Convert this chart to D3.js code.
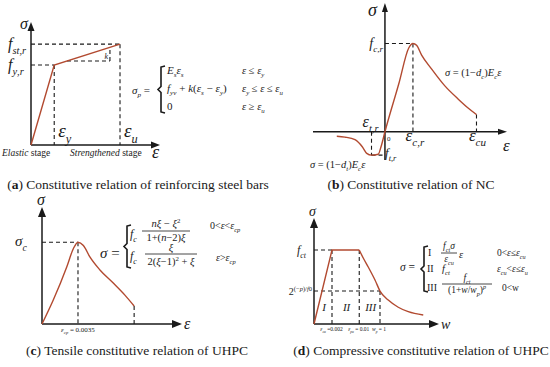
<!DOCTYPE html>
<html>
<head>
<meta charset="utf-8">
<script src="https://cdn.jsdelivr.net/npm/d3@7"></script>
<style>
body { margin: 0; background: #fff; }
svg { display: block; }
text { white-space: pre; }
</style>
</head>
<body>
<script>
// ---- data (axis units, not pixels) ----
// (a) steel bars: fractions of the axis length
var steelStrain = [0, 0.18, 0.69];
var steelStress = [0, 0.65, 0.82];
var steelSlopeLevel = 0.683, steelSlopeEnd = 0.612;

// (b) NC: strain in units of eps_c,r, stress in units of f_c,r
var ncStrain = [-1.72, -1.43, -1.07, -0.81, -0.65, -0.48, -0.24, -0.14, 0, 0.5, 0.85, 1.0, 1.13, 1.31, 1.67, 2.14, 2.62, 2.97, 3.27];
var ncStress = [-0.05, -0.06, -0.09, -0.17, -0.245, -0.265, -0.255, -0.17, 0, 0.55, 0.95, 1.0, 0.98, 0.87, 0.71, 0.52, 0.37, 0.27, 0.195];

// (c) UHPC tension: strain in units of eps_cp, stress in units of sigma_c
var tenStrain = [0, 0.31, 0.69, 0.87, 1.0, 1.15, 1.33, 1.61, 1.98, 2.31, 2.56];
var tenStress = [0, 0.29, 0.70, 0.92, 1.0, 0.96, 0.82, 0.66, 0.50, 0.35, 0.22];

// (d) UHPC compression: fractions of the axis length
var compStrain = [0, 0.144, 0.362, 0.395, 0.435, 0.488, 0.528, 0.594, 0.674, 0.754, 0.874];
var compStress = [0, 0.698, 0.698, 0.62, 0.535, 0.415, 0.311, 0.226, 0.158, 0.116, 0.085];
var compRegions = ["I", "II", "III"];

var captions = [
  ["a", "Constitutive relation of reinforcing steel bars"],
  ["b", "Constitutive relation of NC"],
  ["c", "Tensile constitutive relation of UHPC"],
  ["d", "Compressive constitutive relation of UHPC"]
];

var curveColor = "#b24a30", ink = "#1a1a1a", dash = "4,3";
var serif = "'Liberation Serif', 'DejaVu Serif', serif";

var svg = d3.select("body").append("svg").attr("width", 550).attr("height", 367);

// ---- helpers ----
function arrow(g, x1, y1, x2, y2, len, wid) {
  var a = Math.atan2(y2 - y1, x2 - x1);
  var bx = x2 - len * Math.cos(a), by = y2 - len * Math.sin(a);
  var px = -Math.sin(a) * wid / 2, py = Math.cos(a) * wid / 2;
  g.append("line").attr("x1", x1).attr("y1", y1).attr("x2", bx).attr("y2", by)
    .attr("stroke", ink).attr("stroke-width", 1.5);
  g.append("path")
    .attr("d", "M" + x2 + "," + y2 + "L" + (bx + px) + "," + (by + py) + "L" + (bx - px) + "," + (by - py) + "Z")
    .attr("fill", ink);
}

function dline(g, x1, y1, x2, y2) {
  g.append("line").attr("x1", x1).attr("y1", y1).attr("x2", x2).attr("y2", y2)
    .attr("stroke", ink).attr("stroke-width", 1.1).attr("stroke-dasharray", dash);
}

// tiny tex-ish markup: _x / _{..} sub, ^{..} sup, `..` roman
function runs(str) {
  var res = [], stack = [0], pending = null, roman = false;
  for (var i = 0; i < str.length; i++) {
    var c = str[i];
    if (c === "`") { roman = !roman; continue; }
    if (c === "_" || c === "^") { pending = c === "_" ? 1 : 2; continue; }
    if (c === "{") { stack.push(pending === null ? stack[stack.length - 1] : pending); pending = null; continue; }
    if (c === "}") { stack.pop(); continue; }
    var m = pending !== null ? pending : stack[stack.length - 1];
    pending = null;
    var it = !roman && /[A-Za-z\u03b1-\u03c9]/.test(c);
    var last = res[res.length - 1];
    if (last && last.m === m && last.it === it) last.t += c;
    else res.push({ t: c, m: m, it: it });
  }
  return res;
}

function tx(g, x, y, str, size, anchor) {
  var t = g.append("text").attr("x", x).attr("y", y).attr("font-size", size)
    .attr("font-family", serif).attr("fill", ink)
    .attr("text-anchor", anchor || "start");
  var off = 0;
  runs(str).forEach(function (r) {
    var target = r.m === 1 ? size * 0.3 : r.m === 2 ? -size * 0.42 : 0;
    var fs = r.m ? size * 0.65 : size;
    t.append("tspan").text(r.t).attr("dy", target - off).attr("font-size", fs)
      .attr("font-style", r.it ? "italic" : "normal");
    off = target;
  });
  return t;
}

function frac(g, cx, yNum, yLine, yDen, num, den, size, half) {
  tx(g, cx, yNum, num, size, "middle");
  g.append("line").attr("x1", cx - half).attr("x2", cx + half).attr("y1", yLine).attr("y2", yLine)
    .attr("stroke", ink).attr("stroke-width", 0.8);
  tx(g, cx, yDen, den, size, "middle");
}

function brace(g, x, y0, y1) {
  var m = (y0 + y1) / 2;
  g.append("path")
    .attr("d", "M" + (x + 4) + "," + y0 + "L" + x + "," + (y0 + 1) + "L" + x + "," + (m - 3) +
      "L" + (x - 3) + "," + m + "L" + x + "," + (m + 3) + "L" + x + "," + (y1 - 1) + "L" + (x + 4) + "," + y1)
    .attr("fill", "none").attr("stroke", ink).attr("stroke-width", 1.6);
}

function caption(x, y, c) {
  var t = svg.append("text").attr("x", x).attr("y", y).attr("font-size", 13.5)
    .attr("font-family", serif).attr("fill", ink).attr("text-anchor", "middle");
  t.append("tspan").text("(");
  t.append("tspan").text(c[0]).attr("font-weight", "bold");
  t.append("tspan").text(") " + c[1]);
}

function zipPts(xs, ys) { return xs.map(function (v, i) { return [v, ys[i]]; }); }

// ---- (a) reinforcing steel ----
var ga = svg.append("g");
var xA = d3.scaleLinear().domain([0, 1]).range([31, 160]);
var yA = d3.scaleLinear().domain([0, 1]).range([145, 22]);
arrow(ga, xA(0), yA(0), xA(0), yA(1), 9, 7);
arrow(ga, xA(0), yA(0), xA(1), yA(0), 9, 7);

var sy = steelStrain.length - 1;
dline(ga, xA(0), yA(steelStress[sy]), xA(steelStrain[sy]), yA(steelStress[sy]));
dline(ga, xA(steelStrain[sy]), yA(steelStress[sy]), xA(steelStrain[sy]), yA(0));
dline(ga, xA(0), yA(steelStress[1]), xA(steelStrain[1]), yA(steelStress[1]));
dline(ga, xA(steelStrain[1]), yA(steelStress[1]), xA(steelStrain[1]), yA(0));

// slope triangle (k)
var slopeT = (steelSlopeLevel - steelStress[1]) / (steelStress[2] - steelStress[1]);
var slopeX0 = steelStrain[1] + slopeT * (steelStrain[2] - steelStrain[1]);
var slopeTop = steelStress[1] + (steelSlopeEnd - steelStrain[1]) / (steelStrain[2] - steelStrain[1]) * (steelStress[2] - steelStress[1]);
dline(ga, xA(slopeX0), yA(steelSlopeLevel), xA(steelSlopeEnd), yA(steelSlopeLevel));
dline(ga, xA(steelSlopeEnd), yA(steelSlopeLevel), xA(steelSlopeEnd), yA(slopeTop));
tx(ga, xA(steelSlopeEnd) - 2, yA(steelSlopeLevel) - 2, "k", 8, "end");

ga.append("path").datum(zipPts(steelStrain, steelStress))
  .attr("d", d3.line().x(function (d) { return xA(d[0]); }).y(function (d) { return yA(d[1]); }))
  .attr("fill", "none").attr("stroke", curveColor).attr("stroke-width", 1.4);

tx(ga, 20, 29, "\u03c3", 16);
tx(ga, 8, 49, "f_{st,r}", 16);
tx(ga, 8, 70, "f_{y,r}", 16);
tx(ga, xA(steelStrain[1]) + 4, 137, "\u03b5_y", 19);
tx(ga, xA(steelStrain[sy]) + 4, 137, "\u03b5_u", 19);
tx(ga, 152, 158, "\u03b5", 18);
tx(ga, 2, 156, "Elastic `stage`", 9.5);
tx(ga, 70, 156, "Strengthened `stage`", 9.5);

tx(ga, 132, 94, "\u03c3_p `=`", 11);
brace(ga, 161, 66, 113);
tx(ga, 167, 74, "E_s\u03b5_s", 11);
tx(ga, 167, 92, "f_{yv} + k(\u03b5_s \u2212 \u03b5_y)", 11);
tx(ga, 167, 110, "0", 11);
tx(ga, 242, 74, "\u03b5 \u2264 \u03b5_y", 10.5);
tx(ga, 242, 92, "\u03b5_y \u2264 \u03b5 \u2264 \u03b5_u", 10.5);
tx(ga, 242, 110, "\u03b5 \u2265 \u03b5_u", 10.5);

// ---- (b) NC ----
var gb = svg.append("g");
var xB = d3.scaleLinear().domain([-2.57, 4.36]).range([313, 507]);
var yB = d3.scaleLinear().domain([-0.32, 1.46]).range([160, 3]);
arrow(gb, xB(-2.57), yB(0), xB(4.36), yB(0), 9, 6);
arrow(gb, xB(0), yB(-0.32), xB(0), yB(1.46), 9, 6);

var pk = ncStress.indexOf(d3.max(ncStress));
var tr = ncStress.indexOf(d3.min(ncStress));
var ul = ncStrain.length - 1;
dline(gb, xB(0), yB(ncStress[pk]), xB(ncStrain[pk]), yB(ncStress[pk]));
dline(gb, xB(ncStrain[pk]), yB(ncStress[pk]), xB(ncStrain[pk]), yB(0));
dline(gb, xB(ncStrain[tr]), yB(0), xB(ncStrain[tr]), yB(ncStress[tr]));
dline(gb, xB(ncStrain[tr]), yB(ncStress[tr]), xB(0), yB(ncStress[tr]));
dline(gb, xB(ncStrain[ul]), yB(ncStress[ul]), xB(ncStrain[ul]), yB(0));

gb.append("path").datum(zipPts(ncStrain, ncStress))
  .attr("d", d3.line().curve(d3.curveMonotoneX).x(function (d) { return xB(d[0]); }).y(function (d) { return yB(d[1]); }))
  .attr("fill", "none").attr("stroke", curveColor).attr("stroke-width", 1.4);

tx(gb, 368, 16, "\u03c3", 18);
tx(gb, 383, 48, "f_{c,r}", 14, "end");
tx(gb, xB(ncStrain[pk]) + 2, 141, "\u03b5_{c,r}", 17, "middle");
tx(gb, xB(ncStrain[ul]) + 1, 141, "\u03b5_{cu}", 17, "middle");
tx(gb, xB(ncStrain[tr]) - 1, 127, "\u03b5_{t,r}", 16, "middle");
tx(gb, 385, 157, "f_{t,r}", 13);
tx(gb, 387, 141, "0", 7);
tx(gb, 503, 151, "\u03b5", 17);
tx(gb, 445, 76, "\u03c3 `= (1\u2212`d_c`)`E_c\u03b5", 10.5);
tx(gb, 310, 168, "\u03c3 `= (1\u2212`d_t`)`E_c\u03b5", 10.5);

// ---- (c) UHPC tension ----
var gc = svg.append("g");
var xC = d3.scaleLinear().domain([0, 3.89]).range([42, 182]);
var yC = d3.scaleLinear().domain([0, 1.43]).range([324, 207]);
arrow(gc, xC(0), yC(0), xC(0), yC(1.43), 10, 8);
arrow(gc, xC(0), yC(0), xC(3.89), yC(0), 10, 8);

var tp = tenStress.indexOf(d3.max(tenStress));
var te = tenStrain.length - 1;
dline(gc, xC(0), yC(tenStress[tp]), xC(tenStrain[tp]), yC(tenStress[tp]));
dline(gc, xC(tenStrain[tp]), yC(tenStress[tp]), xC(tenStrain[tp]), yC(0));
dline(gc, xC(tenStrain[te]), yC(tenStress[te]), xC(tenStrain[te]), yC(0));

gc.append("path").datum(zipPts(tenStrain, tenStress))
  .attr("d", d3.line().curve(d3.curveMonotoneX).x(function (d) { return xC(d[0]); }).y(function (d) { return yC(d[1]); }))
  .attr("fill", "none").attr("stroke", curveColor).attr("stroke-width", 1.4);

tx(gc, 37, 205, "\u03c3", 16);
tx(gc, 15, 246, "\u03c3_c", 15);
tx(gc, 184, 329, "\u03b5", 16);
tx(gc, xC(tenStrain[tp]), 332, "\u03b5_{cp} `= 0.0035`", 7, "middle");

tx(gc, 100, 258, "\u03c3 `=`", 15);
brace(gc, 127, 225, 268);
tx(gc, 130, 238, "f_c", 12);
frac(gc, 166, 227, 231, 241, "n\u03be \u2212 \u03be^{`2`}", "`1+(`n`\u22122)`\u03be", 10.5, 24);
tx(gc, 130, 260, "f_c", 12);
frac(gc, 171, 251, 254, 265, "\u03be", "`2(`\u03be`\u22121)`^{`2`}` + `\u03be", 10.5, 26);
tx(gc, 210, 229, "`0<`\u03b5`<`\u03b5_{cp}", 10);
tx(gc, 216, 261, "\u03b5`>`\u03b5_{cp}", 10);

// ---- (d) UHPC compression ----
var gd = svg.append("g");
var xD = d3.scaleLinear().domain([0, 1]).range([314, 439]);
var yD = d3.scaleLinear().domain([0, 1]).range([324, 218]);
arrow(gd, xD(0), yD(0), xD(0), yD(1), 10, 8);
arrow(gd, xD(0), yD(0), xD(1), yD(0), 10, 8);

var wp = 6; // index of w_p point
dline(gd, xD(0), yD(compStress[1]), xD(compStrain[1]), yD(compStress[1]));
dline(gd, xD(0), yD(compStress[wp]), xD(compStrain[wp]), yD(compStress[wp]));
[1, 2, wp].forEach(function (i) {
  dline(gd, xD(compStrain[i]), yD(compStress[i]), xD(compStrain[i]), yD(0));
});

var lineD = d3.line().x(function (d) { return xD(d[0]); }).y(function (d) { return yD(d[1]); });
var ptsD = zipPts(compStrain, compStress);
gd.append("path").datum(ptsD.slice(0, 3)).attr("d", lineD)
  .attr("fill", "none").attr("stroke", curveColor).attr("stroke-width", 1.4);
gd.append("path").datum(ptsD.slice(2)).attr("d", lineD.curve(d3.curveMonotoneX))
  .attr("fill", "none").attr("stroke", curveColor).attr("stroke-width", 1.4);

var bounds = [0, compStrain[1], compStrain[2], compStrain[wp]];
compRegions.forEach(function (r, i) {
  tx(gd, xD((bounds[i] + bounds[i + 1]) / 2) + 1, 311, r, 11, "middle");
});
tx(gd, 309, 216, "\u03c3", 14);
tx(gd, 297, 254, "f_{ct}", 12);
tx(gd, 312, 295, "`2`^{`(\u2212`p`)/`f`0`}", 10, "end");
tx(gd, 441, 329, "w", 14);
tx(gd, xD(compStrain[1]) - 0.5, 331, "\u03b5_{cu} `=0.002`", 5.5, "middle");
tx(gd, xD(compStrain[2]) - 0.5, 331, "\u03b5_{pu} `= 0.01`", 5.5, "middle");
tx(gd, xD(compStrain[wp]) - 1, 331, "w_p `= 1`", 5.5, "middle");

tx(gd, 400, 271, "\u03c3 `=`", 11.5);
brace(gd, 424, 246, 292);
tx(gd, 428, 256, "`I`", 10);
frac(gd, 449, 249, 253, 262, "f_{ct}\u03c3", "\u03b5_{cu}", 9.5, 8);
tx(gd, 459, 258, "\u03b5", 10.5);
tx(gd, 427, 272, "`II`", 10);
tx(gd, 442, 272, "f_{ct}", 10.5);
tx(gd, 427, 291, "`III`", 10);
frac(gd, 467, 281, 284, 293, "f_{ct}", "`(1+`w`/`w_p`)`^p", 9.5, 25);
tx(gd, 497, 256, "`0<`\u03b5`\u2264`\u03b5_{cu}", 9.5);
tx(gd, 497, 272, "\u03b5_{cu}`<`\u03b5`\u2264`\u03b5_{u}", 9.5);
tx(gd, 502, 291, "`0<w`", 9.5);

// ---- captions ----
caption(138, 189, captions[0]);
caption(411, 189, captions[1]);
caption(137, 355, captions[2]);
caption(421, 355, captions[3]);
</script>
</body>
</html>
